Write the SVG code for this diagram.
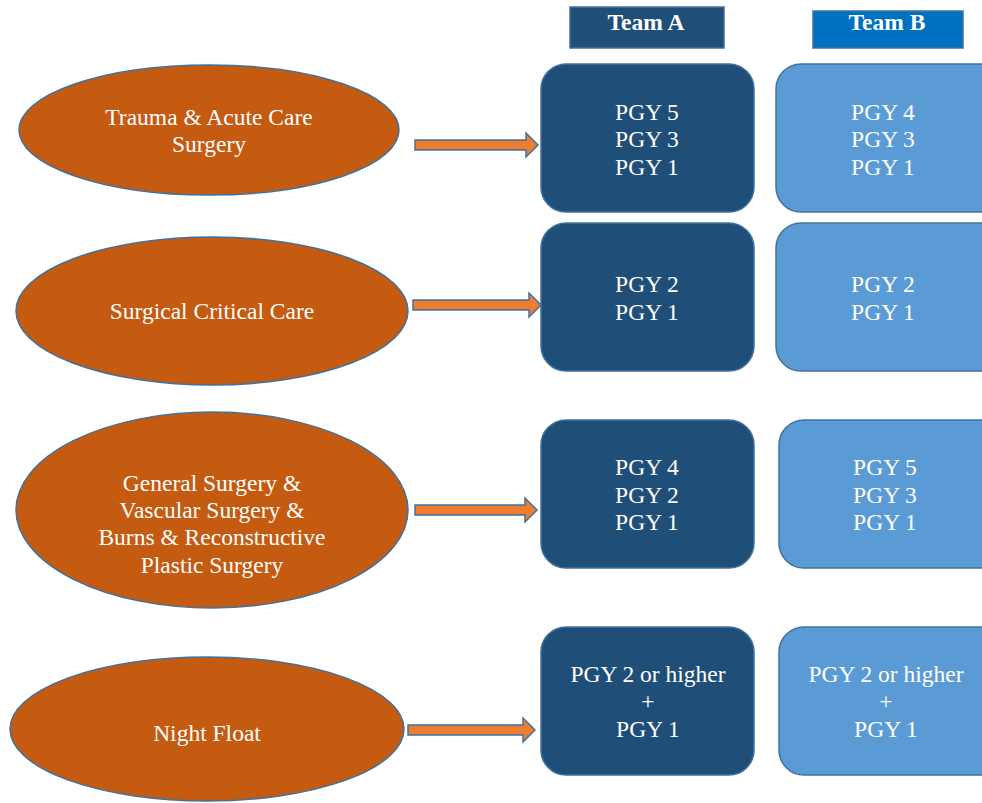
<svg xmlns="http://www.w3.org/2000/svg" width="982" height="803" viewBox="0 0 982 803">
<style>
.ell{fill:#C55A11;stroke:#41719C;stroke-width:1.5}
.ba{fill:#1F4E79;stroke:#41719C;stroke-width:1.5}
.bb{fill:#5B9BD5;stroke:#41719C;stroke-width:1.5}
.arr{fill:#ED7D31;stroke:#41719C;stroke-width:1.5}
text{font-family:'Liberation Serif','Times New Roman',Times,serif;fill:#FFFFFF;text-anchor:middle;font-size:23.5px}
.ht{font-weight:bold}
</style>
<rect width="982" height="803" fill="#FFFFFF"/>
<g id="headerA"><rect x="570" y="7" width="154" height="41" fill="#1F4E79" stroke="#41719C" stroke-width="1.5"/><text class="ht" x="646" y="30">Team A</text></g>
<g id="headerB"><rect x="813" y="11" width="150" height="37" fill="#0070C0" stroke="#41719C" stroke-width="1.5"/><text class="ht" x="887" y="30">Team B</text></g>

<g id="e1"><ellipse class="ell" cx="209" cy="130" rx="190" ry="65"/><text x="209" y="125">Trauma &amp; Acute Care</text><text x="209" y="152">Surgery</text></g>
<g id="e2"><ellipse class="ell" cx="212" cy="311" rx="196" ry="74"/><text x="212" y="319">Surgical Critical Care</text></g>
<g id="e3"><ellipse class="ell" cx="212" cy="510" rx="196" ry="98"/><text x="212" y="491">General Surgery &amp;</text><text x="212" y="518">Vascular Surgery &amp;</text><text x="212" y="545">Burns &amp; Reconstructive</text><text x="212" y="573">Plastic Surgery</text></g>
<g id="e4"><ellipse class="ell" cx="207" cy="729" rx="197" ry="72"/><text x="207" y="741">Night Float</text></g>

<g id="a1"><rect class="ba" x="541" y="64" width="213" height="148" rx="25"/><text x="647" y="120">PGY 5</text><text x="647" y="147">PGY 3</text><text x="647" y="175">PGY 1</text></g>
<g id="a2"><rect class="ba" x="541" y="223" width="213" height="148" rx="25"/><text x="647" y="292">PGY 2</text><text x="647" y="320">PGY 1</text></g>
<g id="a3"><rect class="ba" x="541" y="420" width="213" height="148" rx="25"/><text x="647" y="475">PGY 4</text><text x="647" y="503">PGY 2</text><text x="647" y="530">PGY 1</text></g>
<g id="a4"><rect class="ba" x="541" y="627" width="213" height="148" rx="25"/><text x="648" y="682">PGY 2 or higher</text><text x="648" y="709">+</text><text x="648" y="737">PGY 1</text></g>

<g id="b1"><rect class="bb" x="776" y="64" width="230" height="148" rx="25"/><text x="883" y="120">PGY 4</text><text x="883" y="147">PGY 3</text><text x="883" y="175">PGY 1</text></g>
<g id="b2"><rect class="bb" x="776" y="223" width="230" height="148" rx="25"/><text x="883" y="292">PGY 2</text><text x="883" y="320">PGY 1</text></g>
<g id="b3"><rect class="bb" x="779" y="420" width="230" height="148" rx="25"/><text x="885" y="475">PGY 5</text><text x="885" y="503">PGY 3</text><text x="885" y="530">PGY 1</text></g>
<g id="b4"><rect class="bb" x="779" y="627" width="230" height="148" rx="25"/><text x="886" y="682">PGY 2 or higher</text><text x="886" y="709">+</text><text x="886" y="737">PGY 1</text></g>

<g id="connectors">
<path class="arr" d="M415,140 H526 V133 L538,145 L526,157 V150 H415 Z"/>
<path class="arr" d="M413,300 H529 V293 L541,305 L529,317 V310 H413 Z"/>
<path class="arr" d="M415,505 H525 V498 L537,510 L525,522 V515 H415 Z"/>
<path class="arr" d="M408,725 H523 V718 L535,730 L523,742 V735 H408 Z"/>
</g>
</svg>
